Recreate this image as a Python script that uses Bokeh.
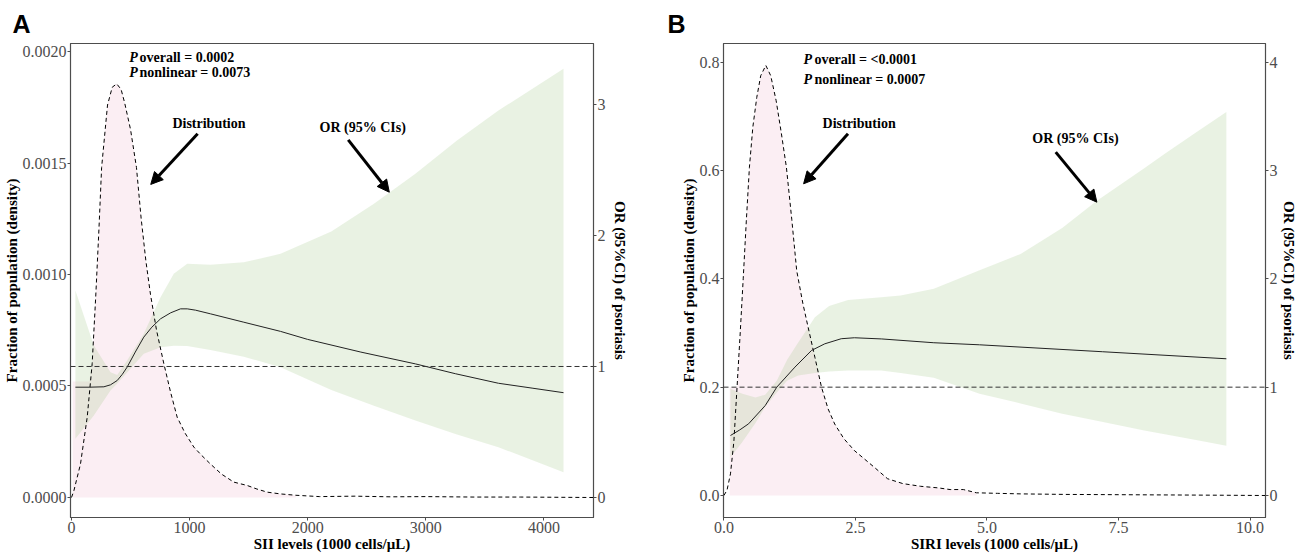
from bokeh.plotting import figure
from bokeh.models import (Range1d, LinearAxis, Span, Label, Arrow, NormalHead,
                          FixedTicker, PrintfTickFormatter)
from bokeh.layouts import row
from bokeh.embed import file_html
from bokeh.resources import INLINE

# ---------------- Panel A : SII ----------------
sii_dens_x = [0, 20, 76, 133, 175, 205, 232, 255, 305, 345, 383, 420, 450, 500, 550, 590, 630,
              669, 720, 782, 840, 895, 960, 1036, 1100, 1177, 1270, 1374, 1487, 1570, 1657, 1770,
              1900, 2100, 2400, 2700, 3000, 3400, 3800, 4420]
sii_dens_y = [0.0, 0.00003, 0.00015, 0.00036, 0.00060, 0.00090, 0.00120, 0.00148, 0.00176,
              0.00184, 0.001855, 0.00183, 0.00177, 0.00165, 0.00148, 0.00125, 0.00106, 0.00091,
              0.00075, 0.00060, 0.00047, 0.00036, 0.00029, 0.000226, 0.00019, 0.00015, 0.000105,
              0.000069, 0.000054, 0.000038, 0.000024, 0.000016, 0.000010, 0.000004, 0.000006,
              0.000003, 0.000004, 0.000002, 0.000002, 0.0]
sii_fill_left_x = [10, 150]
sii_fill_left_y = [0.00052, 0.00052]

sii_or_x = [33, 150, 274, 330, 387, 430, 471, 540, 612, 680, 754, 840, 923, 980, 1050, 1177,
            1459, 1770, 1999, 2450, 2912, 3250, 3615, 3900, 4166]
sii_or_y = [0.842, 0.842, 0.845, 0.86, 0.893, 0.94, 0.995, 1.11, 1.224, 1.30, 1.364, 1.41, 1.44,
            1.44, 1.43, 1.402, 1.338, 1.268, 1.207, 1.11, 1.02, 0.945, 0.872, 0.835, 0.80]

sii_band_x = [33, 189, 330, 387, 471, 612, 754, 866, 980, 1177, 1459, 1770, 2200, 2561, 2912,
              3264, 3615, 4166]
sii_band_hi = [1.58, 1.16, 0.957, 0.935, 1.046, 1.25, 1.529, 1.708, 1.784, 1.776, 1.796, 1.86,
               2.03, 2.242, 2.471, 2.725, 2.954, 3.272]
sii_band_lo = [0.448, 0.626, 0.817, 0.87, 0.955, 1.097, 1.147, 1.158, 1.157, 1.125, 1.075, 0.995,
               0.82, 0.70, 0.588, 0.48, 0.384, 0.193]

sii_x_ticks = [0, 1000, 2000, 3000, 4000]
sii_dens_ticks = [0.0, 0.0005, 0.0010, 0.0015, 0.0020]
sii_or_ticks = [0, 1, 2, 3]

# ---------------- Panel B : SIRI ----------------
siri_dens_x = [0.0, 0.06, 0.125, 0.19, 0.25, 0.31, 0.367, 0.425, 0.485, 0.55, 0.625, 0.70,
               0.797, 0.89, 0.993, 1.09, 1.188, 1.29, 1.384, 1.50, 1.60, 1.73, 1.855, 1.98,
               2.106, 2.28, 2.48, 2.86, 3.11, 3.4, 3.74, 4.08, 4.3, 4.55, 4.8, 5.2, 5.64, 6.5,
               7.5, 8.5, 9.5, 10.29]
siri_dens_y = [0.0, 0.01, 0.04, 0.10, 0.20, 0.30, 0.40, 0.505, 0.606, 0.68, 0.735, 0.775, 0.794,
               0.775, 0.729, 0.67, 0.606, 0.51, 0.415, 0.355, 0.311, 0.255, 0.20, 0.16, 0.132,
               0.105, 0.083, 0.052, 0.031, 0.022, 0.017, 0.014, 0.011, 0.011, 0.005, 0.004,
               0.003, 0.002, 0.0015, 0.001, 0.0005, 0.0]
siri_fill_left_x = [0.11, 0.24]
siri_fill_left_y = [0.20, 0.20]

siri_or_x = [0.125, 0.3, 0.47, 0.785, 1.005, 1.35, 1.666, 1.917, 2.23, 2.48, 3.0, 3.99, 4.86,
             7.2, 9.55]
siri_or_y = [0.554, 0.605, 0.662, 0.83, 1.0, 1.185, 1.339, 1.40, 1.447, 1.456, 1.445, 1.41,
             1.391, 1.327, 1.262]

siri_band_x = [0.125, 0.35, 0.6, 0.785, 1.005, 1.2, 1.41, 1.73, 2.0, 2.36, 2.99, 3.36, 3.99,
               4.86, 5.64, 6.43, 7.09, 7.99, 8.38, 9.0, 9.55]
siri_band_hi = [0.985, 0.94, 0.905, 0.93, 1.06, 1.25, 1.41, 1.646, 1.75, 1.805, 1.83, 1.847,
                1.909, 2.08, 2.23, 2.47, 2.72, 3.02, 3.155, 3.36, 3.54]
siri_band_lo = [0.354, 0.495, 0.67, 0.816, 0.95, 1.06, 1.108, 1.13, 1.145, 1.154, 1.154, 1.13,
                1.087, 0.939, 0.85, 0.754, 0.69, 0.60, 0.565, 0.51, 0.46]

siri_x_ticks = [0.0, 2.5, 5.0, 7.5, 10.0]
siri_dens_ticks = [0.0, 0.2, 0.4, 0.6, 0.8]
siri_or_ticks = [0, 1, 2, 3, 4]

SERIF = "Liberation Serif"
GRAY = "#4d4d4d"
PINK = "#e8a0bf"
GREEN = "#a9cc8f"


def style_axis(ax, ticks, fmt, label, standoff=0):
    ax.ticker = FixedTicker(ticks=ticks)
    ax.formatter = PrintfTickFormatter(format=fmt)
    ax.axis_label = label
    ax.axis_label_text_font = SERIF
    ax.axis_label_text_font_style = "bold"
    ax.axis_label_text_font_size = "15px"
    ax.axis_label_text_color = "black"
    ax.axis_label_standoff = standoff
    ax.major_label_text_font = SERIF
    ax.major_label_text_font_size = "16px"
    ax.major_label_text_color = GRAY
    ax.major_label_standoff = 1
    ax.major_tick_out = 3
    ax.major_tick_in = 0
    ax.minor_tick_out = 0
    ax.minor_tick_in = 0
    ax.axis_line_color = GRAY
    ax.major_tick_line_color = GRAY


def panel(width, border_left, border_right, xr, yr, orr, tag, tag_offset,
          dens_x, dens_y, fl_x, fl_y, fill_start, fill_stop,
          band_x, band_lo, band_hi, or_x, or_y,
          x_ticks, x_fmt, x_label, d_ticks, d_fmt, o_ticks, right_standoff):
    p = figure(width=width, height=556, output_backend="svg", toolbar_location=None,
               x_range=Range1d(*xr), y_range=Range1d(*yr),
               min_border_left=border_left, min_border_right=border_right,
               min_border_top=43, min_border_bottom=39)
    p.extra_y_ranges = {"or": Range1d(*orr)}
    p.xgrid.visible = False
    p.ygrid.visible = False
    p.outline_line_color = GRAY
    p.outline_line_width = 1.2
    p.outline_line_alpha = 1.0
    p.background_fill_color = "white"
    p.border_fill_color = "white"

    # panel tag ("A" / "B")
    p.title.text = tag
    p.title.text_font = "Liberation Sans"
    p.title.text_font_size = "25px"
    p.title.text_font_style = "bold"
    p.title.text_color = "black"
    p.title.align = "left"
    p.title.offset = tag_offset
    p.title.standoff = 12

    # pink distribution fill
    fx = fl_x + dens_x[fill_start:fill_stop]
    fy = fl_y + dens_y[fill_start:fill_stop]
    p.varea(x=fx, y1=[0] * len(fx), y2=fy, fill_color=PINK, fill_alpha=0.18)
    # OR confidence band
    p.varea(x=band_x, y1=band_lo, y2=band_hi, fill_color=GREEN, fill_alpha=0.25,
            y_range_name="or")
    # reference line OR = 1
    p.add_layout(Span(location=1, dimension="width", y_range_name="or",
                      line_color="#333333", line_width=1, line_dash="5 3"))
    # density curve
    p.line(dens_x, dens_y, line_color="black", line_width=1, line_dash="4 3")
    # OR curve
    p.line(or_x, or_y, line_color="#222222", line_width=1, y_range_name="or")

    style_axis(p.xaxis[0], x_ticks, x_fmt, x_label)
    style_axis(p.yaxis[0], d_ticks, d_fmt, "Fraction of population (density)")
    ax_r = LinearAxis(y_range_name="or")
    style_axis(ax_r, o_ticks, "%d", "OR (95%CI) of psoriasis", standoff=right_standoff)
    p.add_layout(ax_r, "right")
    return p


def add_text(p, x, y, text, size="14px", style="bold", align="left", baseline="middle",
             font=SERIF):
    p.add_layout(Label(x=x, y=y, text=text, text_font=font, text_font_size=size,
                       text_font_style=style, text_align=align, text_baseline=baseline,
                       text_color="black"))


def add_arrow(p, x0, y0, x1, y1):
    p.add_layout(Arrow(end=NormalHead(size=12, fill_color="black", line_color="black"),
                       x_start=x0, y_start=y0, x_end=x1, y_end=y1,
                       line_color="black", line_width=3))


pA = panel(650, 70, 57, (-8.5, 4420), (-0.0000897, 0.0020359), (-0.1527, 3.4656), "A", -58,
           sii_dens_x, sii_dens_y, sii_fill_left_x, sii_fill_left_y, 4, 33,
           sii_band_x, sii_band_lo, sii_band_hi, sii_or_x, sii_or_y,
           sii_x_ticks, "%d", "SII levels (1000 cells/\u03bcL)",
           sii_dens_ticks, "%.4f", sii_or_ticks, 3)

add_text(pA, 488, 0.001975, "P", style="bold italic")
add_text(pA, 576, 0.001975, "overall = 0.0002")
add_text(pA, 488, 0.001904, "P", style="bold italic")
add_text(pA, 576, 0.001904, "nonlinear = 0.0073")
add_text(pA, 1164, 0.001675, "Distribution", align="center")
add_arrow(pA, 1068, 0.001631, 671, 0.001404)
add_text(pA, 2466, 0.001657, "OR (95% CIs)", align="center")
add_arrow(pA, 2343, 0.001604, 2691, 0.001369)

pB = panel(649, 73, 30, (-0.0075, 10.294), (-0.0406, 0.8344), (-0.203, 4.172), "B", -56,
           siri_dens_x, siri_dens_y, siri_fill_left_x, siri_fill_left_y, 4, 35,
           siri_band_x, siri_band_lo, siri_band_hi, siri_or_x, siri_or_y,
           siri_x_ticks, "%.1f", "SIRI levels (1000 cells/\u03bcL)",
           siri_dens_ticks, "%.1f", siri_or_ticks, 0)

add_text(pB, 1.515, 0.8049, "P", style="bold italic")
add_text(pB, 1.72, 0.8049, "overall = <0.0001")
add_text(pB, 1.515, 0.7674, "P", style="bold italic")
add_text(pB, 1.72, 0.7674, "nonlinear = 0.0007")
add_text(pB, 2.57, 0.6862, "Distribution", align="center")
add_arrow(pB, 2.358, 0.6677, 1.515, 0.5754)
add_text(pB, 6.683, 0.6596, "OR (95% CIs)", align="center")
add_arrow(pB, 6.307, 0.6338, 7.089, 0.5415)

layout = row(pA, pB)
open("out.html", "w").write(file_html(layout, INLINE))
